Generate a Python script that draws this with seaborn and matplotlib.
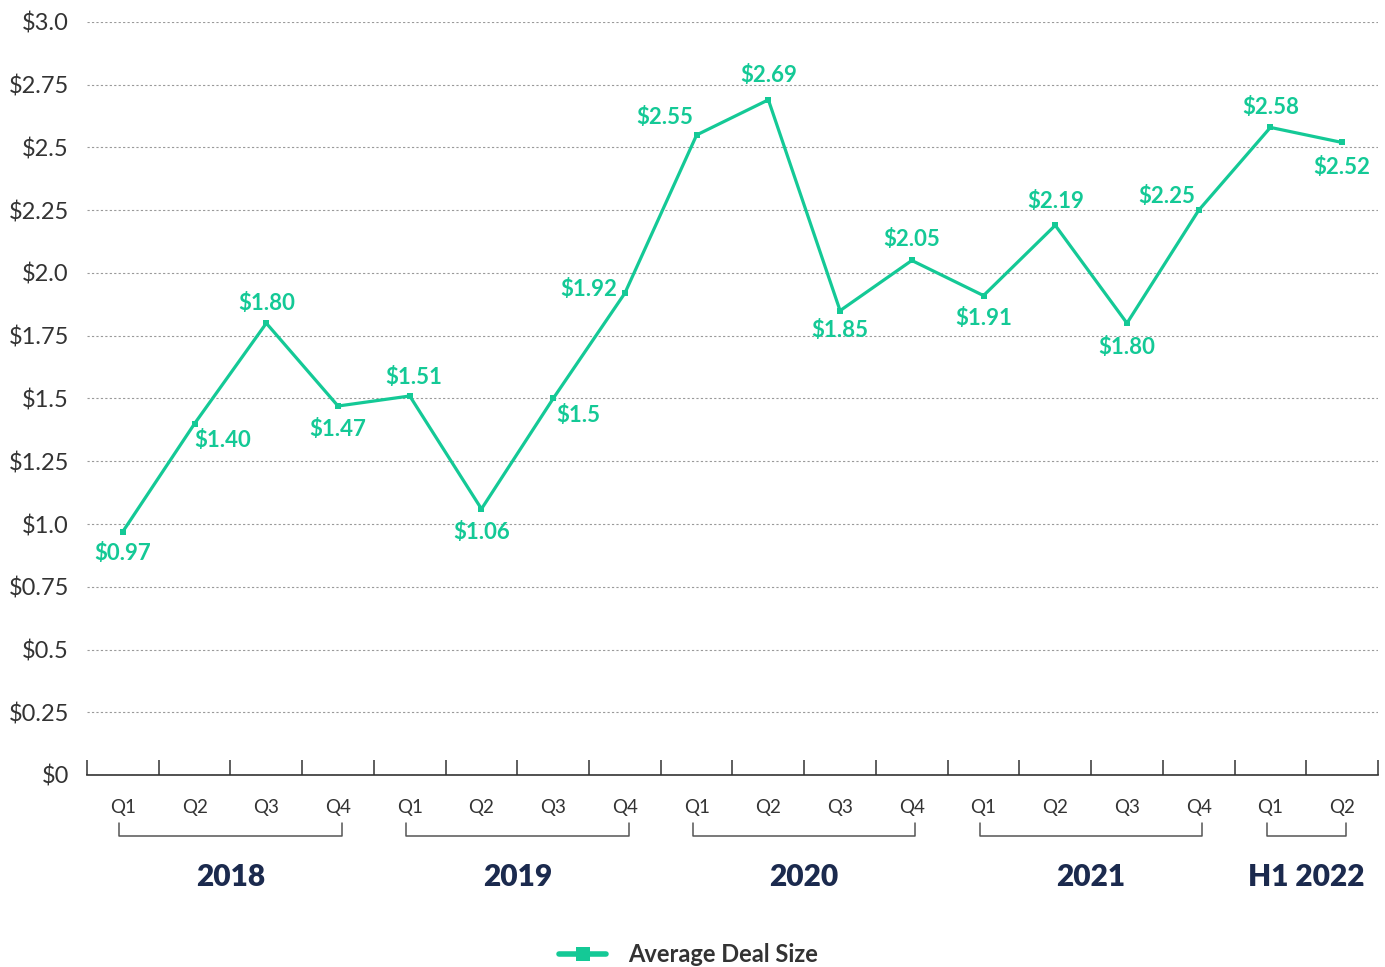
import numpy as np
import pandas as pd
import matplotlib.pyplot as plt
import matplotlib.transforms as mtransforms
import seaborn as sns

# data
quarters = ["Q1", "Q2", "Q3", "Q4"] * 4 + ["Q1", "Q2"]
years = ["2018", "2019", "2020", "2021", "H1 2022"]
year_sizes = [4, 4, 4, 4, 2]
deal_size = [0.97, 1.40, 1.80, 1.47, 1.51, 1.06, 1.5, 1.92,
             2.55, 2.69, 1.85, 2.05, 1.91, 2.19, 1.80, 2.25,
             2.58, 2.52]
value_labels = ["$0.97", "$1.40", "$1.80", "$1.47", "$1.51", "$1.06", "$1.5", "$1.92",
                "$2.55", "$2.69", "$1.85", "$2.05", "$1.91", "$2.19", "$1.80", "$2.25",
                "$2.58", "$2.52"]
y_ticks = [0, 0.25, 0.5, 0.75, 1.0, 1.25, 1.5, 1.75, 2.0, 2.25, 2.5, 2.75, 3.0]
y_ticklabels = ["$0", "$0.25", "$0.5", "$0.75", "$1.0", "$1.25", "$1.5", "$1.75",
                "$2.0", "$2.25", "$2.5", "$2.75", "$3.0"]

# label offsets in pixels (dx, dy)
label_offsets = [(0, -22), (28, -17), (0, 20), (0, -23), (4, 18), (0, -24), (25, -17), (-36, 4),
                 (-32, 17), (0, 24), (0, -20), (0, 21), (0, -23), (0, 24), (0, -24), (-32, 14),
                 (0, 20), (0, -25)]

green = "#14c996"
grey = "#333333"
navy = "#1b2a4e"

sns.set_theme(style="white")
plt.rcParams['font.family'] = ['Lato', 'DejaVu Sans']

df = pd.DataFrame({"pos": np.arange(len(deal_size)), "value": deal_size})

fig = plt.figure(figsize=(13.85, 9.67), dpi=100)
ax = fig.add_axes([87 / 1385, 1 - 775 / 967, (1378 - 87) / 1385, (775 - 22) / 967])

sns.lineplot(data=df, x="pos", y="value", ax=ax, color=green, linewidth=2.3,
             marker="s", markersize=5, markeredgewidth=0, label="Average Deal Size")

for i, (v, lab) in enumerate(zip(deal_size, value_labels)):
    dx, dy = label_offsets[i]
    ax.annotate(lab, (i, v), xytext=(dx, dy), textcoords="offset pixels",
                ha="center", va="center", color=green, fontsize=16, fontweight="bold")

ax.set_ylim(0, 3.0)
ax.set_xlim(-0.5, len(deal_size) - 0.5)
ax.set_yticks(y_ticks)
ax.set_yticklabels(y_ticklabels, fontsize=17, color=grey)
ax.tick_params(axis="y", length=0, pad=13)
ax.yaxis.grid(True, linestyle=(0, (2, 2)), color="#9a9a9a", linewidth=0.8)
ax.xaxis.grid(False)

# quarter boundaries as ticks, quarter names as minor ticks
ax.set_xticks(np.arange(-0.5, len(deal_size)))
ax.set_xticklabels([])
ax.tick_params(axis="x", which="major", direction="in", length=11, width=1.1, color=grey, bottom=True)
ax.set_xticks(np.arange(len(deal_size)), minor=True)
ax.set_xticklabels(quarters, minor=True, fontsize=13.5, color=grey)
ax.tick_params(axis="x", which="minor", length=0, pad=17)
ax.set_xlabel("")
ax.set_ylabel("")

for s in ["top", "right", "left"]:
    ax.spines[s].set_visible(False)
ax.spines["bottom"].set_color(grey)
ax.spines["bottom"].set_linewidth(1.2)

# year brackets and labels
trans = mtransforms.blended_transform_factory(ax.transData, ax.transAxes)
start = 0
for yr, n in zip(years, year_sizes):
    x0, x1 = start - 0.05, start + n - 1 + 0.05
    ax.plot([x0, x0, x1, x1], [-0.064, -0.081, -0.081, -0.064], transform=trans,
            color="#555555", linewidth=1.1, clip_on=False)
    ax.text(start + (n - 1) / 2, -0.136, yr, transform=trans, ha="center", va="center",
            fontsize=21.5, fontweight="heavy", color=navy)
    start += n

leg = ax.legend(loc="center", bbox_to_anchor=(0.497, 1 - 955 / 967), bbox_transform=fig.transFigure,
                frameon=False, prop={"size": 17, "weight": "bold"}, handlelength=2.0, handletextpad=0.9)
for t in leg.get_texts():
    t.set_color(grey)
for h in leg.legend_handles:
    h.set_linewidth(4)
    h.set_markersize(10)

fig.savefig("out.png", dpi=100)
